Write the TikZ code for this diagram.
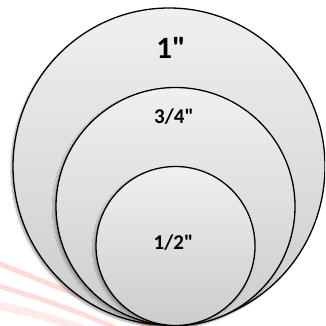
\documentclass[tikz,border=0pt]{standalone}
\usepackage{fontspec}
\newfontfamily\lblfont{Carlito}
\usetikzlibrary{shapes.geometric,shadows.blur}
\begin{document}
\begin{tikzpicture}[x=1pt,y=-1pt,
  disc/.style={ellipse, draw=black, line width=1.3pt, inner sep=0pt, outer sep=0pt,
    top color=gray!12, bottom color=gray!40,
    blur shadow={shadow xshift=-2pt, shadow yshift=-2pt, shadow blur steps=8, shadow opacity=35}},
  lbl/.style={text=black},
  streak/.style={line width=5pt, draw=red!55, opacity=0.25, line cap=round}]
\useasboundingbox (0,0) rectangle (325,326);
\begin{scope}
\clip (0,0) rectangle (325,326);
\draw[streak] (-5,262) .. controls (40,280) and (90,300) .. (150,326);
\draw[streak] (-5,285) .. controls (40,298) and (80,312) .. (120,330);
\draw[streak, line width=8pt, opacity=0.15] (-5,305) .. controls (30,312) and (60,320) .. (90,332);
\node[disc, minimum width=312pt, minimum height=317pt] (big) at (169,166.5) {};
\node[disc, minimum width=239pt, minimum height=238pt] (mid) at (175.5,206.5) {};
\node[disc, minimum width=159pt, minimum height=159pt] (small) at (175.5,246) {};
\end{scope}
\node[lbl, font=\lblfont\bfseries\fontsize{31}{31}\selectfont] (t1) at (171,48) {1"};
\node[lbl, font=\lblfont\bfseries\fontsize{21}{21}\selectfont] (t2) at (174,117) {3/4"};
\node[lbl, font=\lblfont\bfseries\fontsize{21}{21}\selectfont] (t3) at (173.5,243) {1/2"};
\end{tikzpicture}
\end{document}
